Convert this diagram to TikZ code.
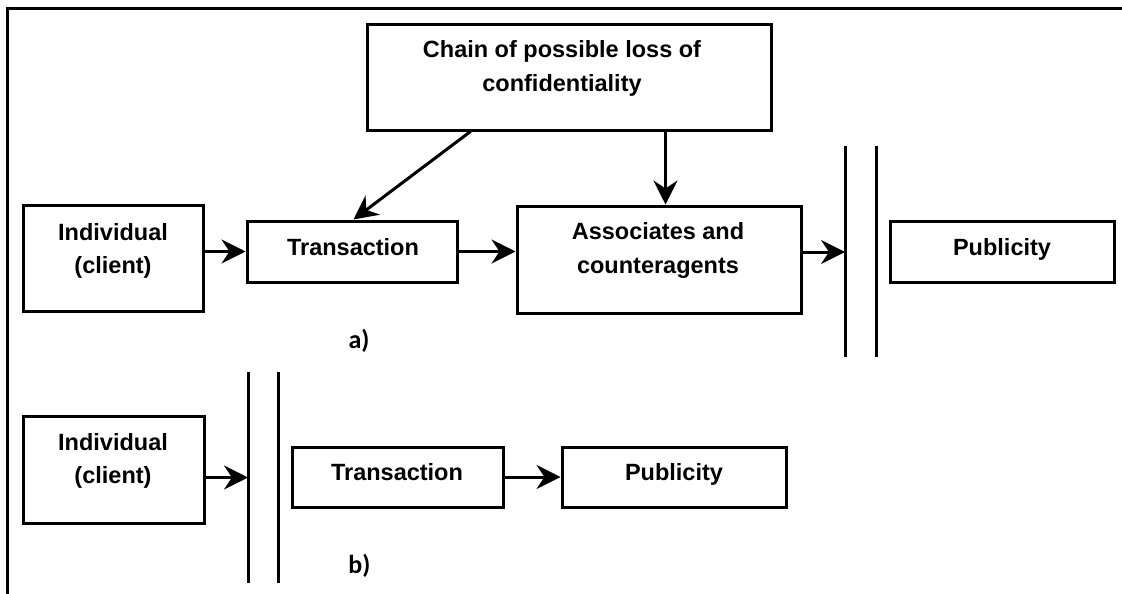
\documentclass[tikz,border=0pt]{standalone}
\usepackage{fontspec}
\setmainfont{Liberation Sans}
\newfontfamily\calfont{Carlito}
\usetikzlibrary{arrows.meta,calc}
\tikzset{
  box/.style={draw, line width=3pt, rectangle, inner sep=0pt},
  txt/.style={font=\bfseries\fontsize{23.5}{33}\selectfont, inner sep=0pt, anchor=base},
  sub/.style={font=\calfont\bfseries\fontsize{26}{30}\selectfont, inner sep=0pt},
  conn/.style={line width=3pt, -{Stealth[length=24pt,width=24pt,inset=8pt]}},
  barline/.style={line width=3pt},
  frameline/.style={line width=3pt}
}
\begin{document}
\begin{tikzpicture}[x=1pt,y=-1pt]
\useasboundingbox (0,0) rectangle (1122,594);
% frame
\coordinate (fr) at (1122,9);
\coordinate (fc) at (7,9);
\coordinate (fb) at (7,594);
\draw[frameline] (fr) -- (fc) -- (fb);

% boxes
\node[box, minimum width=404pt, minimum height=105pt] (chain) at (569,77.5) {};
\node[box, minimum width=180pt, minimum height=106pt] (inda) at (113,258) {};
\node[box, minimum width=210pt, minimum height=61pt] (tra) at (352,251.5) {};
\node[box, minimum width=284pt, minimum height=107pt] (assoc) at (659,259.5) {};
\node[box, minimum width=224pt, minimum height=61pt] (puba) at (1002,251.5) {};
\node[box, minimum width=181pt, minimum height=107pt] (indb) at (113.5,469.5) {};
\node[box, minimum width=211pt, minimum height=60pt] (trb) at (397.5,477) {};
\node[box, minimum width=224pt, minimum height=60pt] (pubb) at (674,477) {};

% texts
\node[txt] (t1) at (562,58) {Chain of possible loss of};
\node[txt] (t2) at (562,91.5) {confidentiality};
\node[txt] (t3) at (113,240) {Individual};
\node[txt] (t4) at (113,273.5) {(client)};
\node[txt] (t5) at (353,255) {Transaction};
\node[txt] (t6) at (658,239.5) {Associates and};
\node[txt] (t7) at (658,273) {counteragents};
\node[txt] (t8) at (1002,255) {Publicity};
\node[txt] (t9) at (113,450.7) {Individual};
\node[txt] (t10) at (113,483.5) {(client)};
\node[txt] (t11) at (397,480.7) {Transaction};
\node[txt] (t12) at (674,480.7) {Publicity};
\node[sub] (la) at (359,341) {a)};
\node[sub] (lb) at (359.5,566) {b)};

% bars a
\coordinate (ba1t) at (845,146);
\coordinate (ba1b) at (845,357);
\coordinate (ba2t) at (876,146);
\coordinate (ba2b) at (876,357);
\draw[barline] (ba1t) -- (ba1b);
\draw[barline] (ba2t) -- (ba2b);
% bars b
\coordinate (bb1t) at (248,372);
\coordinate (bb1b) at (248,583);
\coordinate (bb2t) at (278,372);
\coordinate (bb2b) at (278,583);
\draw[barline] (bb1t) -- (bb1b);
\draw[barline] (bb2t) -- (bb2b);

% connectors a
\draw[conn] (inda.east |- tra.west) -- (tra.west);
\draw[conn] (tra.east) -- (tra.east -| assoc.west);
\coordinate (ahit) at (845,252);
\draw[conn] (assoc.east |- ahit) -- (ahit);
\draw[conn] ($(chain.south west)+(105,0)$) -- ($(tra.north west)+(108,0)$);
\draw[conn] ($(chain.south west)+(300,0)$) -- ($(assoc.north west)+(150,0)$);

% connectors b
\coordinate (bhit) at (248,477.5);
\draw[conn] (indb.east |- bhit) -- (bhit);
\draw[conn] (trb.east) -- (pubb.west);
\end{tikzpicture}
\end{document}
